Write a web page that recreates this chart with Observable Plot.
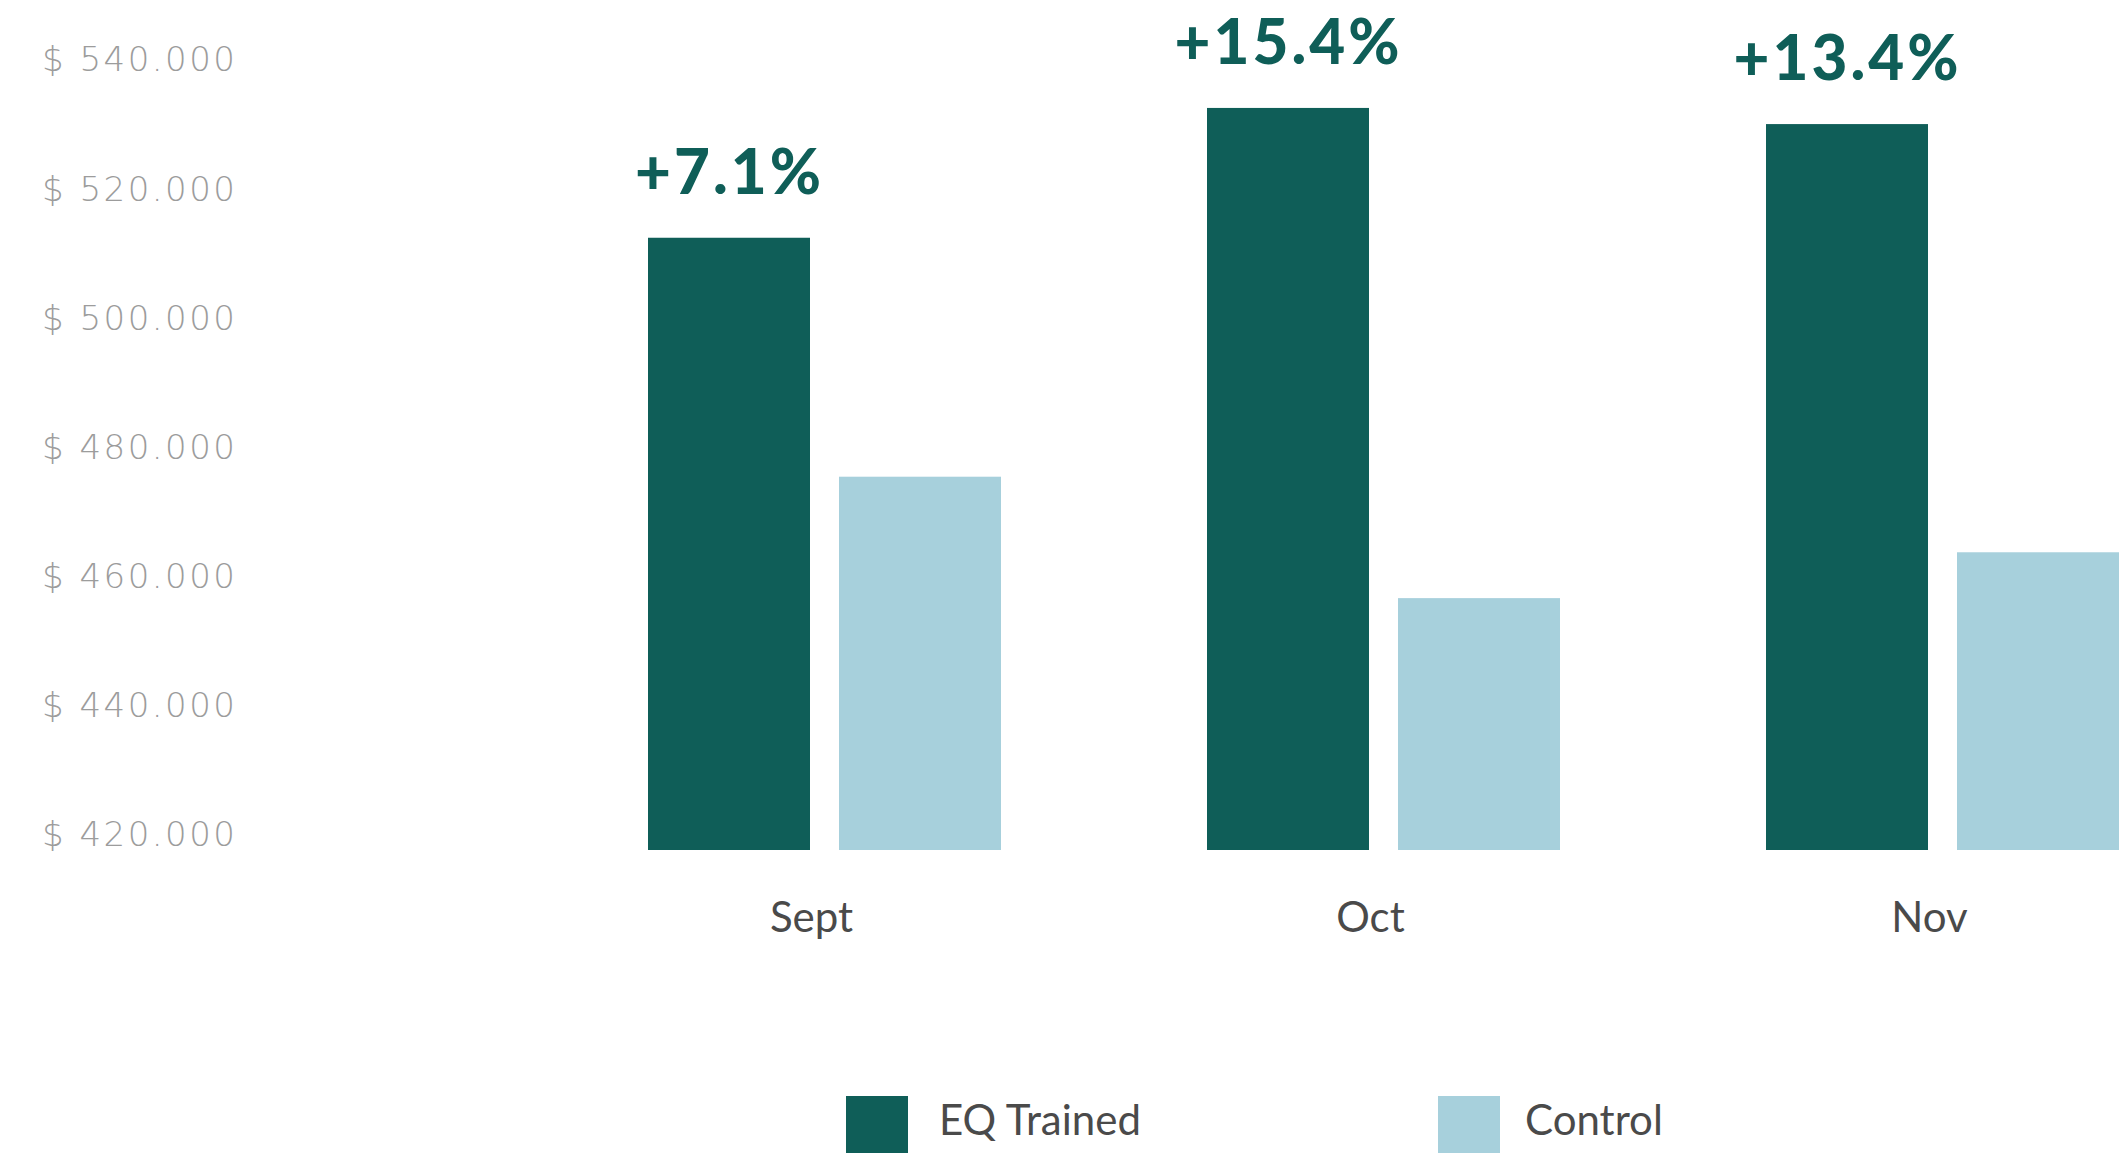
<!DOCTYPE html>
<html>
<head>
<meta charset="utf-8">
<script src="https://cdn.jsdelivr.net/npm/d3@7"></script>
<script src="https://cdn.jsdelivr.net/npm/@observablehq/plot@0.6"></script>
<style>
  html, body { margin: 0; padding: 0; background: #ffffff; overflow: hidden; }
  #wrap { position: relative; width: 2121px; height: 1153px; overflow: hidden; }
  svg g[aria-label="y-axis tick label"] text { letter-spacing: 2.5px; }
  svg g[aria-label="text"] text { letter-spacing: 3px; }
  .leg-swatch { position: absolute; width: 62px; height: 70px; }
  .leg-text { position: absolute; font-family: Lato, sans-serif; font-size: 42px; line-height: 1; color: #4a4a4a; white-space: nowrap; }
</style>
</head>
<body>
<div id="wrap"></div>
<script>
// ---- data ----
const months = ["Sept", "Oct", "Nov"];
const seriesNames = ["EQ Trained", "Control"];
const eqTrained = [514800, 534900, 532400];
const control = [477800, 459000, 466100];
const upliftLabels = ["+7.1%", "+15.4%", "+13.4%"];
const yTicks = [420000, 440000, 460000, 480000, 500000, 520000, 540000];
const seriesColors = ["#0f5e58", "#a7d0dc"];

// ---- tables built from the arrays ----
const bars = months.flatMap((m, i) => [
  {month: m, series: seriesNames[0], value: eqTrained[i]},
  {month: m, series: seriesNames[1], value: control[i]}
]);
const labels = months.map((m, i) => ({month: m, series: seriesNames[0], value: eqTrained[i], label: upliftLabels[i]}));

const fmt = d => "$ " + d3.format(",")(d).replace(/,/g, ".");

const chart = Plot.plot({
  width: 2121,
  height: 1050,
  marginLeft: 647,
  marginRight: 0,
  marginTop: 75,
  marginBottom: 200,
  style: {fontFamily: "Lato, sans-serif", background: "#ffffff", overflow: "visible"},
  fx: {domain: months, paddingInner: 0.366, paddingOuter: 0, label: null, axis: null},
  x: {domain: seriesNames, paddingInner: 0.151, paddingOuter: 0, axis: null},
  y: {domain: [yTicks[0], yTicks[yTicks.length - 1]], axis: null, label: null},
  color: {domain: seriesNames, range: seriesColors},
  marks: [
    Plot.barY(bars, {fx: "month", x: "series", y1: yTicks[0], y2: "value", fill: "series"}),
    Plot.text(labels, {
      fx: "month", x: "series", y: "value", text: "label",
      dy: -64, fill: seriesColors[0], fontSize: 62, fontWeight: 900,
      fontFamily: "Lato, sans-serif", textAnchor: "middle", lineAnchor: "middle"
    }),
    Plot.axisY({
      ticks: yTicks, tickFormat: fmt, tickSize: 0, tickPadding: 411, dy: -15,
      fill: "#9c9c9c", fontSize: 34, fontFamily: "DejaVu Sans, sans-serif", fontWeight: 300,
      label: null
    }),
    Plot.axisFx({
      anchor: "bottom", tickSize: 0, tickPadding: 0, dx: -14, dy: 68, lineAnchor: "middle",
      fill: "#4a4a4a", fontSize: 42, fontFamily: "Lato, sans-serif", label: null
    })
  ]
});

const wrap = document.getElementById("wrap");
wrap.appendChild(chart);

// ---- legend below the chart ----
const colorScale = chart.scale("color");
const legendPos = [
  {swatch: 846, text: 939},
  {swatch: 1438, text: 1525}
];
colorScale.domain.forEach((name, i) => {
  const sw = document.createElement("div");
  sw.className = "leg-swatch";
  sw.style.left = legendPos[i].swatch + "px";
  sw.style.top = "1096px";
  sw.style.background = colorScale.range[i];
  wrap.appendChild(sw);
  const tx = document.createElement("div");
  tx.className = "leg-text";
  tx.style.left = legendPos[i].text + "px";
  tx.style.top = "1098px";
  tx.textContent = name;
  wrap.appendChild(tx);
});
</script>
</body>
</html>
